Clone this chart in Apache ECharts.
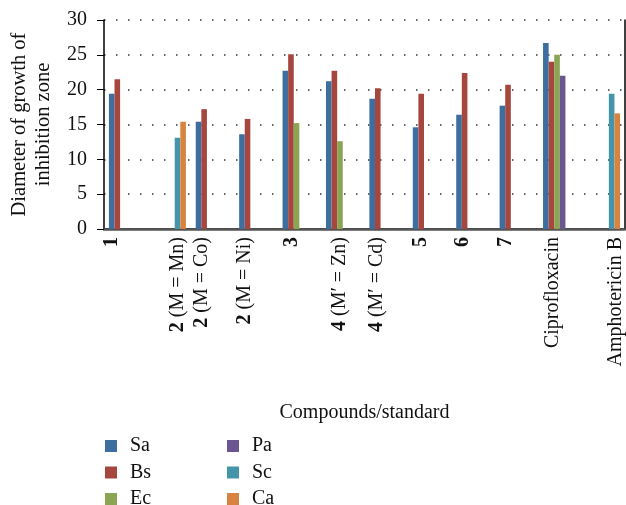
<!DOCTYPE html>
<html>
<head>
<meta charset="utf-8">
<script src="https://cdn.jsdelivr.net/npm/echarts@6/dist/echarts.min.js"></script>
<style>
html,body{margin:0;padding:0;background:#fff;}
#chart{width:626px;height:505px;}
</style>
</head>
<body>
<div id="chart"></div>
<script>
const categories = ['1','2 (M = Mn)','2 (M = Co)','2 (M = Ni)','3','4 (M\u2032 = Zn)','4 (M\u2032 = Cd)','5','6','7','Ciprofloxacin','Amphotericin B'];
const Sa = [19.4, null, 15.4, 13.6, 22.7, 21.2, 18.7, 14.6, 16.4, 17.7, 26.7, null];
const Bs = [21.5, null, 17.2, 15.8, 25.1, 22.7, 20.2, 19.4, 22.4, 20.7, 24.0, null];
const Ec = [null, null, null, null, 15.2, 12.6, null, null, null, null, 25.0, null];
const Pa = [null, null, null, null, null, null, null, null, null, null, 22.0, null];
const Sc = [null, 13.1, null, null, null, null, null, null, null, null, null, 19.4];
const Ca = [null, 15.4, null, null, null, null, null, null, null, null, null, 16.6];
const yTicks = [0, 5, 10, 15, 20, 25, 30];

// horizontal label offsets (px) relative to category centre
const labelShift = [-15.75, 6.75, -12.75, -13.25, -9.75, -5.25, -11.75, -11.25, -11.75, -12.25, -8.75, 10.75];

const FONT = '"Liberation Serif", "DejaVu Serif", serif';
const colors = {Sa:'#3c6ea0', Bs:'#a5463f', Ec:'#8ca552', Pa:'#6c5692', Sc:'#4595aa', Ca:'#d8833f'};

function padFor(s){
  s = s + 2;
  if (s < 0) return [0, 0, -2*s, 0];
  return [2*s, 0, 0, 0];
}
function fmt(v){
  const m = v.match(/^(\d)(.*)$/);
  if (m) return '{b|' + m[1] + '}' + m[2];
  return v;
}

const chart = echarts.init(document.getElementById('chart'), null, {renderer:'canvas'});
const seriesDefs = [['Sa',Sa],['Bs',Bs],['Ec',Ec],['Pa',Pa],['Sc',Sc],['Ca',Ca]];
const legendText = {fontFamily:FONT, fontSize:20, color:'#111', padding:[0,0,0,8]};
chart.setOption({
  animation:false,
  backgroundColor:'#fff',
  textStyle:{fontFamily:FONT},
  grid:{left:104, top:20, right:1, bottom:276, containLabel:false},
  legend:[
    {data:['Sa','Bs','Ec'], orient:'vertical', left:105, top:436, height:90, padding:0,
     itemWidth:12, itemHeight:12, itemGap:6.5, icon:'rect', textStyle:legendText},
    {data:['Pa','Sc','Ca'], orient:'vertical', left:227, top:436, height:90, padding:0,
     itemWidth:12, itemHeight:12, itemGap:6.5, icon:'rect', textStyle:legendText}
  ],
  xAxis:[
    {type:'category', data: categories.map((c,i)=>({value:c, textStyle:{padding:padFor(labelShift[i])}})),
     position:'bottom',
     name:'Compounds/standard', nameLocation:'middle', nameGap:174,
     nameTextStyle:{fontFamily:FONT, fontSize:20, color:'#111'},
     axisLine:{lineStyle:{color:'#000', width:1.5}},
     axisTick:{show:false},
     axisLabel:{interval:0, rotate:90, margin:8, fontFamily:FONT, fontSize:20, color:'#111',
       formatter: fmt,
       rich:{b:{fontWeight:'bold', fontFamily:FONT, fontSize:20, color:'#111'}}}},
    {type:'category', data:categories, position:'top',
     axisLine:{lineStyle:{color:'#555', width:2.5}}, axisTick:{show:false}, axisLabel:{show:false}}
  ],
  yAxis:[
    {type:'value', min:0, max:30, interval:5,
     name:'Diameter of growth of\ninhibition zone', nameLocation:'middle', nameGap:44,
     nameTextStyle:{fontFamily:FONT, fontSize:20.5, color:'#111', lineHeight:24},
     axisLine:{show:true, lineStyle:{color:'#000', width:1.5}},
     axisTick:{show:true, length:7, lineStyle:{color:'#000', width:1}},
     axisLabel:{margin:17, fontFamily:FONT, fontSize:20, color:'#111',
       formatter: v => yTicks.includes(v) ? String(v) : ''},
     splitLine:{show:true, lineStyle:{color:'#333', width:1.5, type:[1.5,10.5]}}},
    {type:'value', min:0, max:30, interval:5, position:'right',
     axisLine:{show:true, lineStyle:{color:'#000', width:1.5}},
     axisTick:{show:false}, axisLabel:{show:false}, splitLine:{show:false}}
  ],
  series: seriesDefs.map(([n,d])=>({
    name:n, type:'bar', data:d, barWidth:5.6, barGap:'0%',
    itemStyle:{color:colors[n]}
  }))
});
</script>
</body>
</html>
